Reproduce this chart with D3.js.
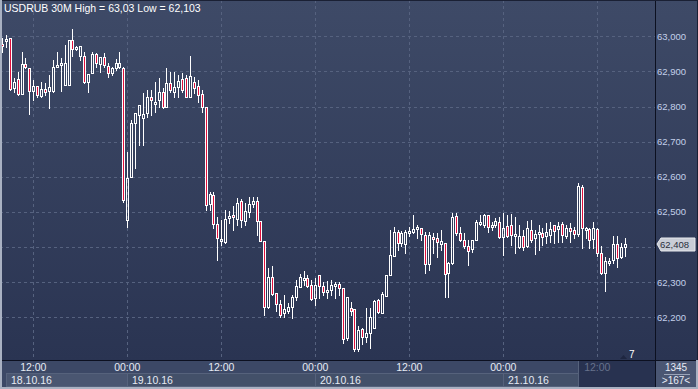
<!DOCTYPE html>
<html>
<head>
<meta charset="utf-8">
<script src="https://cdn.jsdelivr.net/npm/d3@7"></script>
<style>
  body { margin: 0; background: #2e3854; }
  svg { display: block; font-family: "Liberation Sans", Arial, sans-serif; }
</style>
</head>
<body>
<div id="chart"></div>
<script>
// USDRUB 30M, 18.10.16 08:00 -> 21.10.16 15:30, one candle every 30 minutes
const startTime = new Date(2016, 9, 18, 8, 0);
const stepMinutes = 30;

const open = [
  62.978, 62.987, 62.995, 62.853, 62.878, 62.836, 62.921, 62.910, 62.844, 62.858,
  62.830, 62.850, 62.844, 62.844, 62.915, 62.918, 62.861, 62.861, 62.989, 62.964,
  62.944, 62.944, 62.870, 62.895, 62.950, 62.921, 62.941, 62.915, 62.895, 62.910,
  62.913, 62.910, 62.477, 62.599, 62.753, 62.776, 62.767, 62.782, 62.827, 62.810,
  62.819, 62.841, 62.799, 62.867, 62.841, 62.856, 62.878, 62.881, 62.827, 62.870,
  62.858, 62.836, 62.799, 62.522, 62.548, 62.465, 62.417, 62.414, 62.482, 62.491,
  62.479, 62.531, 62.474, 62.499, 62.522, 62.531, 62.474, 62.417, 62.229, 62.314,
  62.269, 62.237, 62.212, 62.217, 62.229, 62.257, 62.286, 62.309, 62.311, 62.291,
  62.254, 62.320, 62.289, 62.271, 62.277, 62.289, 62.294, 62.283, 62.140, 62.226,
  62.223, 62.109, 62.166, 62.143, 62.157, 62.169, 62.249, 62.212, 62.260, 62.320,
  62.374, 62.442, 62.411, 62.408, 62.440, 62.442, 62.451, 62.454, 62.434, 62.351,
  62.428, 62.425, 62.408, 62.411, 62.326, 62.354, 62.488, 62.440, 62.420, 62.403,
  62.394, 62.420, 62.468, 62.462, 62.491, 62.457, 62.462, 62.471, 62.428, 62.460,
  62.462, 62.431, 62.400, 62.431, 62.403, 62.448, 62.425, 62.437, 62.440, 62.431,
  62.434, 62.462, 62.451, 62.465, 62.431, 62.454, 62.448, 62.437, 62.571, 62.451,
  62.451, 62.423, 62.451, 62.383, 62.326, 62.354, 62.363, 62.408, 62.371, 62.400
];
const high = [
  62.995, 63.004, 62.995, 62.881, 62.898, 62.955, 62.938, 62.910, 62.876, 62.858,
  62.870, 62.867, 62.890, 62.932, 62.955, 62.938, 62.975, 62.989, 63.021, 62.972,
  62.972, 62.955, 62.893, 62.955, 62.952, 62.941, 62.952, 62.924, 62.913, 62.935,
  62.955, 62.913, 62.670, 62.762, 62.782, 62.804, 62.838, 62.847, 62.847, 62.870,
  62.881, 62.853, 62.910, 62.898, 62.898, 62.890, 62.895, 62.890, 62.944, 62.884,
  62.876, 62.847, 62.799, 62.556, 62.556, 62.485, 62.477, 62.505, 62.502, 62.517,
  62.539, 62.536, 62.525, 62.542, 62.542, 62.542, 62.474, 62.417, 62.340, 62.346,
  62.269, 62.249, 62.263, 62.240, 62.263, 62.306, 62.323, 62.331, 62.320, 62.306,
  62.311, 62.320, 62.300, 62.303, 62.306, 62.300, 62.300, 62.283, 62.257, 62.243,
  62.223, 62.175, 62.169, 62.226, 62.226, 62.249, 62.252, 62.271, 62.320, 62.448,
  62.457, 62.448, 62.445, 62.448, 62.457, 62.491, 62.462, 62.454, 62.442, 62.442,
  62.440, 62.440, 62.448, 62.411, 62.357, 62.497, 62.497, 62.457, 62.440, 62.420,
  62.420, 62.477, 62.491, 62.494, 62.491, 62.471, 62.482, 62.485, 62.497, 62.491,
  62.494, 62.485, 62.462, 62.448, 62.474, 62.477, 62.448, 62.462, 62.454, 62.468,
  62.471, 62.462, 62.471, 62.471, 62.462, 62.468, 62.457, 62.582, 62.576, 62.457,
  62.454, 62.471, 62.454, 62.403, 62.371, 62.368, 62.431, 62.431, 62.411, 62.425
];
const low = [
  62.955, 62.970, 62.847, 62.841, 62.833, 62.836, 62.910, 62.779, 62.819, 62.827,
  62.827, 62.833, 62.796, 62.841, 62.913, 62.844, 62.861, 62.861, 62.944, 62.961,
  62.932, 62.867, 62.841, 62.895, 62.913, 62.898, 62.913, 62.884, 62.890, 62.904,
  62.910, 62.528, 62.457, 62.599, 62.625, 62.690, 62.690, 62.770, 62.776, 62.784,
  62.799, 62.796, 62.799, 62.841, 62.827, 62.827, 62.841, 62.827, 62.827, 62.838,
  62.813, 62.784, 62.505, 62.505, 62.454, 62.363, 62.405, 62.411, 62.468, 62.448,
  62.462, 62.457, 62.462, 62.485, 62.514, 62.434, 62.417, 62.206, 62.226, 62.263,
  62.217, 62.200, 62.200, 62.212, 62.197, 62.249, 62.286, 62.291, 62.286, 62.249,
  62.234, 62.254, 62.263, 62.254, 62.263, 62.254, 62.263, 62.126, 62.135, 62.206,
  62.103, 62.103, 62.123, 62.129, 62.112, 62.169, 62.212, 62.212, 62.260, 62.320,
  62.374, 62.391, 62.403, 62.383, 62.431, 62.440, 62.425, 62.420, 62.326, 62.334,
  62.383, 62.371, 62.391, 62.257, 62.257, 62.351, 62.434, 62.417, 62.397, 62.348,
  62.385, 62.420, 62.462, 62.457, 62.442, 62.448, 62.457, 62.425, 62.377, 62.428,
  62.405, 62.383, 62.397, 62.391, 62.400, 62.414, 62.380, 62.391, 62.405, 62.411,
  62.414, 62.411, 62.414, 62.414, 62.425, 62.414, 62.425, 62.431, 62.397, 62.425,
  62.397, 62.397, 62.374, 62.323, 62.274, 62.348, 62.354, 62.343, 62.368, 62.374
];
const close = [
  62.975, 62.992, 62.850, 62.870, 62.836, 62.921, 62.913, 62.844, 62.858, 62.833,
  62.850, 62.841, 62.856, 62.913, 62.918, 62.924, 62.924, 62.989, 62.964, 62.970,
  62.972, 62.870, 62.893, 62.950, 62.924, 62.941, 62.918, 62.895, 62.910, 62.924,
  62.924, 62.534, 62.596, 62.753, 62.782, 62.804, 62.779, 62.827, 62.819, 62.813,
  62.841, 62.799, 62.867, 62.847, 62.856, 62.873, 62.847, 62.827, 62.887, 62.853,
  62.833, 62.799, 62.519, 62.551, 62.465, 62.425, 62.423, 62.479, 62.488, 62.485,
  62.525, 62.477, 62.502, 62.522, 62.531, 62.474, 62.417, 62.229, 62.314, 62.266,
  62.237, 62.206, 62.223, 62.229, 62.257, 62.289, 62.314, 62.311, 62.289, 62.252,
  62.291, 62.289, 62.271, 62.277, 62.291, 62.294, 62.283, 62.138, 62.257, 62.217,
  62.109, 62.163, 62.143, 62.157, 62.200, 62.246, 62.215, 62.266, 62.320, 62.377,
  62.442, 62.411, 62.440, 62.442, 62.445, 62.451, 62.457, 62.437, 62.351, 62.434,
  62.423, 62.414, 62.417, 62.323, 62.354, 62.485, 62.440, 62.420, 62.403, 62.388,
  62.420, 62.471, 62.471, 62.491, 62.457, 62.462, 62.474, 62.428, 62.454, 62.431,
  62.434, 62.437, 62.431, 62.400, 62.454, 62.420, 62.437, 62.442, 62.428, 62.442,
  62.451, 62.445, 62.460, 62.434, 62.454, 62.445, 62.437, 62.573, 62.454, 62.454,
  62.420, 62.454, 62.383, 62.326, 62.360, 62.360, 62.408, 62.368, 62.400, 62.408
];

// axis ticks
const priceTicks = [62.2, 62.3, 62.4, 62.5, 62.6, 62.7, 62.8, 62.9, 63.0];
const timeTicks = [
  new Date(2016, 9, 18, 12), new Date(2016, 9, 19, 0), new Date(2016, 9, 19, 12),
  new Date(2016, 9, 20, 0), new Date(2016, 9, 20, 12), new Date(2016, 9, 21, 0),
  new Date(2016, 9, 21, 12)
];
const dayLabels = ["18.10.16", "19.10.16", "20.10.16", "21.10.16"];
const dayStarts = [new Date(2016, 9, 18, 8, 30), new Date(2016, 9, 19), new Date(2016, 9, 20), new Date(2016, 9, 21)];
const dayEnds = [new Date(2016, 9, 19), new Date(2016, 9, 20), new Date(2016, 9, 21), new Date(2016, 9, 21, 9, 30)];
const titleText = "USDRUB 30M High = 63,03 Low = 62,103";
const lastPrice = 62.408;

// dimensions
const W = 698, H = 389;
const plotRight = 655, plotBottom = 360;

const candles = open.map((o, i) => ({
  t: new Date(startTime.getTime() + i * stepMinutes * 60000),
  o: o, h: high[i], l: low[i], c: close[i]
}));

const x = d3.scaleTime()
  .domain([timeTicks[0], timeTicks[6]])
  .range([33.3, 597.3]);

const y = d3.scaleLinear()
  .domain([62.2, 63.0])
  .range([317.4, 36.3]);

const comma = v => d3.format(".3f")(v).replace(".", ",");

const svg = d3.select('#chart')
  .append('svg')
  .attr('width', W)
  .attr('height', H);

// dégradé de fond
const defs = svg.append('defs');
const grad = defs.append('linearGradient')
  .attr('id', 'bg').attr('x1', 0).attr('y1', 0).attr('x2', 0).attr('y2', 1);
grad.append('stop').attr('offset', '0%').attr('stop-color', '#3e4a67');
grad.append('stop').attr('offset', '100%').attr('stop-color', '#2a3452');

svg.append('rect')
  .attr('width', W).attr('height', plotBottom)
  .attr('fill', 'url(#bg)');

// bande du bas (axe des temps)
svg.append('rect')
  .attr('x', 0).attr('y', plotBottom)
  .attr('width', W).attr('height', H - plotBottom)
  .attr('fill', '#3c4866');

// zone sombre à droite de l'axe des temps
const darkStart = Math.round(x(dayEnds[3]));
svg.append('rect')
  .attr('x', darkStart).attr('y', plotBottom + 1)
  .attr('width', plotRight - darkStart).attr('height', H - plotBottom - 3)
  .attr('fill', '#283250');
svg.append('line')
  .attr('x1', darkStart + 0.5).attr('x2', darkStart + 0.5)
  .attr('y1', plotBottom + 1).attr('y2', H - 2)
  .attr('stroke', '#56627c');

// boîte en bas à droite
svg.append('rect')
  .attr('x', plotRight + 1).attr('y', plotBottom + 1)
  .attr('width', W - plotRight - 1).attr('height', H - plotBottom - 1)
  .attr('fill', '#4a5673');

// grille horizontale
svg.append('g')
  .selectAll('line')
  .data(priceTicks)
  .join('line')
  .attr('x1', 0).attr('x2', plotRight)
  .attr('y1', d => Math.round(y(d)) + 0.5)
  .attr('y2', d => Math.round(y(d)) + 0.5)
  .attr('stroke', '#56627f')
  .attr('stroke-dasharray', '3,3');

// grille verticale
svg.append('g')
  .selectAll('line')
  .data(timeTicks)
  .join('line')
  .attr('x1', d => Math.round(x(d)) + 0.5)
  .attr('x2', d => Math.round(x(d)) + 0.5)
  .attr('y1', 0).attr('y2', plotBottom)
  .attr('stroke', '#56627f')
  .attr('stroke-dasharray', '3,3');

// bougies
const red = '#e0103c';
const candleG = svg.append('g').attr('shape-rendering', 'crispEdges');

candles.forEach(d => {
  const cx = Math.round(x(d.t));
  let top = Math.round(y(Math.max(d.o, d.c)));
  let bot = Math.round(y(Math.min(d.o, d.c)));
  if (bot - top < 2) bot = top + 2;
  const hy = Math.round(y(d.h));
  const ly = Math.round(y(d.l));
  const bear = d.c < d.o;

  // mèches
  if (hy < top) {
    candleG.append('line')
      .attr('x1', cx + 0.5).attr('x2', cx + 0.5)
      .attr('y1', hy).attr('y2', top)
      .attr('stroke', '#fff');
  }
  if (ly > bot) {
    candleG.append('line')
      .attr('x1', cx + 0.5).attr('x2', cx + 0.5)
      .attr('y1', bot).attr('y2', ly + 1)
      .attr('stroke', '#fff');
  }
  // corps
  candleG.append('rect')
    .attr('x', cx - 0.5).attr('y', top + 0.5)
    .attr('width', 2).attr('height', bot - top)
    .attr('fill', bear ? red : 'none')
    .attr('stroke', '#fff')
    .attr('stroke-width', 1);
});

// axe de droite
svg.append('rect')
  .attr('x', plotRight).attr('y', 0)
  .attr('width', W - plotRight).attr('height', plotBottom)
  .attr('fill', 'url(#bg)');

svg.append('line')
  .attr('x1', plotRight + 0.5).attr('x2', plotRight + 0.5)
  .attr('y1', 0).attr('y2', H)
  .attr('stroke', '#0c1020');

// le libellé caché derrière l'étiquette du dernier prix n'est pas affiché
svg.append('g')
  .selectAll('text')
  .data(priceTicks.filter(d => Math.abs(y(d) - y(lastPrice)) > 10))
  .join('text')
  .attr('x', 657)
  .attr('y', d => y(d) + 3.5)
  .attr('fill', '#c3d0ea')
  .attr('font-size', 9.5)
  .text(d => comma(d));

// étiquette du dernier prix
const ly0 = Math.round(y(lastPrice));
svg.append('path')
  .attr('d', `M657,${ly0} L661,${ly0 - 6} L695,${ly0 - 6} L695,${ly0 + 7} L661,${ly0 + 7} Z`)
  .attr('fill', '#c9cdd6')
  .attr('stroke', '#e8eaee');
svg.append('text')
  .attr('x', 660).attr('y', ly0 + 4)
  .attr('fill', '#2a2f3c')
  .attr('font-size', 9.5)
  .text(comma(lastPrice));

// ligne du bas
svg.append('line')
  .attr('x1', 0).attr('x2', W)
  .attr('y1', plotBottom + 0.5).attr('y2', plotBottom + 0.5)
  .attr('stroke', '#0c1020');

// boîtes des dates
const dayG = svg.append('g');
dayLabels.forEach((lab, i) => {
  const x0 = Math.round(x(dayStarts[i]));
  const x1 = Math.round(x(dayEnds[i]));
  dayG.append('rect')
    .attr('x', x0 + 0.5).attr('y', 373.5)
    .attr('width', x1 - x0).attr('height', 13)
    .attr('fill', i === 0 ? '#4a5671' : '#435069')
    .attr('stroke', '#56627c');
  dayG.append('text')
    .attr('x', x0 + 5).attr('y', 384)
    .attr('fill', '#e6ebf4')
    .attr('font-size', 10.5)
    .text(lab);
});

// heures
svg.append('g')
  .selectAll('text')
  .data(timeTicks)
  .join('text')
  .attr('x', d => x(d))
  .attr('y', 371)
  .attr('text-anchor', 'middle')
  .attr('fill', (d, i) => i === timeTicks.length - 1 ? '#66718c' : '#e6ebf4')
  .attr('font-size', 10.5)
  .text(d => d3.timeFormat('%H:%M')(d));

// petite boîte en bas à droite
svg.append('text')
  .attr('x', 676).attr('y', 371)
  .attr('text-anchor', 'middle')
  .attr('fill', '#e6ebf4')
  .attr('font-size', 10)
  .text('1345');
svg.append('line')
  .attr('x1', 664).attr('x2', 690)
  .attr('y1', 374.5).attr('y2', 374.5)
  .attr('stroke', '#9aa4b8');
svg.append('text')
  .attr('x', 676).attr('y', 384)
  .attr('text-anchor', 'middle')
  .attr('fill', '#e6ebf4')
  .attr('font-size', 10)
  .text('>167<');

// marqueur "7"
svg.append('path')
  .attr('d', 'M620,359 L623.5,355 L627,359 Z')
  .attr('fill', '#1e2640');
svg.append('text')
  .attr('x', 629).attr('y', 358)
  .attr('fill', '#ffffff')
  .attr('font-size', 10)
  .text('7');

// titre
svg.append('text')
  .attr('x', 4).attr('y', 12)
  .attr('fill', '#ffffff')
  .attr('font-size', 10.5)
  .text(titleText);

// cadre
svg.append('rect')
  .attr('x', 0.5).attr('y', 0.5)
  .attr('width', W - 1).attr('height', H - 1)
  .attr('fill', 'none')
  .attr('stroke', '#1a2034');
svg.append('line')
  .attr('x1', 1).attr('x2', 1).attr('y1', 0).attr('y2', H)
  .attr('stroke', '#a9b1c2').attr('stroke-width', 2);
svg.append('line')
  .attr('x1', 0).attr('x2', W).attr('y1', H - 1).attr('y2', H - 1)
  .attr('stroke', '#a9b1c2').attr('stroke-width', 2);
svg.append('line')
  .attr('x1', W - 1).attr('x2', W - 1).attr('y1', plotBottom).attr('y2', H)
  .attr('stroke', '#a9b1c2').attr('stroke-width', 2);
</script>
</body>
</html>
